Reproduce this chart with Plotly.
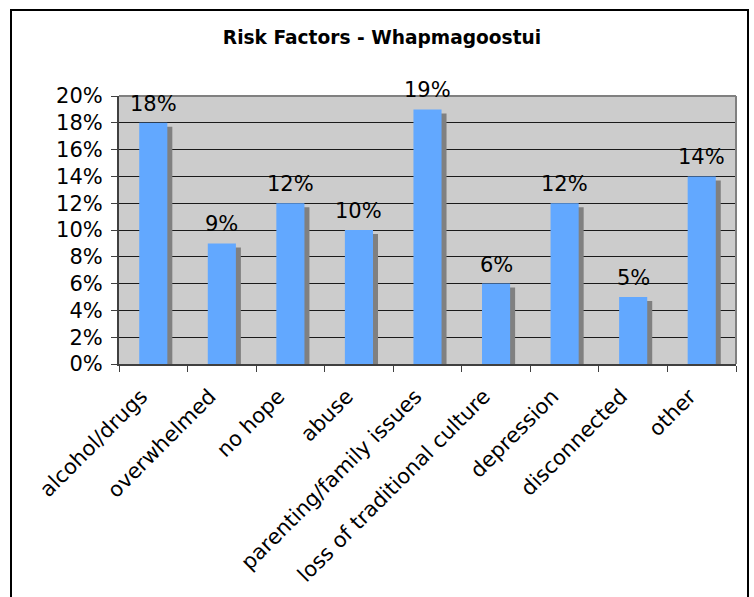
import plotly.graph_objects as go

# Risk factor categories and their share of responses (%)
categories = [
    "alcohol/drugs", "overwhelmed", "no hope", "abuse",
    "parenting/family issues", "loss of traditional culture",
    "depression", "disconnected", "other",
]
shares = [18, 9, 12, 10, 19, 6, 12, 5, 14]
y_ticks = list(range(0, 21, 2))

W, H = 754, 597
L, R, T, B = 119, 18, 96, 233
plot_w = W - L - R
plot_h = H - T - B

BAR_W = 0.41
px_x = len(categories) / plot_w          # category units per pixel
px_y = 20 / plot_h                       # percent units per pixel
SHADOW_DX = 5 * px_x
SHADOW_DY = 4 * px_y
LABEL_DX = 12 * px_x                     # nudge rotated category labels left

FONT = "DejaVu Sans"
LABEL_SIZE = 21

n = len(categories)
fig = go.Figure()

# drop shadow behind each bar
fig.add_trace(go.Bar(
    x=categories,
    y=[v - SHADOW_DY for v in shares],
    width=BAR_W,
    offset=-BAR_W / 2 + SHADOW_DX,
    marker=dict(color="#808080", line=dict(width=0)),
    hoverinfo="skip",
))
# main bars
fig.add_trace(go.Bar(
    x=categories,
    y=shares,
    width=BAR_W,
    offset=-BAR_W / 2,
    marker=dict(color="#62A8FF", line=dict(width=0)),
))
# invisible helper so the label axis gets drawn
fig.add_trace(go.Scatter(
    x=list(range(n)), y=shares, xaxis="x2", yaxis="y",
    mode="markers", marker=dict(opacity=0), hoverinfo="skip",
))

# value labels above bars
for c, v in zip(categories, shares):
    fig.add_annotation(
        x=c, y=v, text=f"{v}%", showarrow=False,
        xanchor="center", yanchor="bottom", yshift=5,
        font=dict(family=FONT, size=LABEL_SIZE, color="#000000"),
    )

def px_to_paper_x(px):
    return (px - L) / plot_w

def px_to_paper_y(py):
    return (H - B - py) / plot_h

# outer chart frame
fig.add_shape(type="rect", xref="paper", yref="paper",
              x0=px_to_paper_x(11), x1=px_to_paper_x(748),
              y0=px_to_paper_y(610), y1=px_to_paper_y(10),
              line=dict(color="#000000", width=2), layer="above")
# plot area top and right edges
fig.add_shape(type="line", xref="paper", yref="paper",
              x0=0, x1=1, y0=1, y1=1,
              line=dict(color="#808080", width=2), layer="above")
fig.add_shape(type="line", xref="paper", yref="paper",
              x0=1, x1=1, y0=0, y1=1,
              line=dict(color="#808080", width=2), layer="above")

fig.update_layout(
    width=W, height=H,
    margin=dict(l=L, r=R, t=T, b=B, autoexpand=False),
    paper_bgcolor="#FFFFFF",
    plot_bgcolor="#CCCCCC",
    barmode="overlay",
    showlegend=False,
    title=dict(
        text="<b>Risk Factors - Whapmagoostui</b>",
        x=382 / W, xanchor="center", xref="container",
        y=1 - 37 / H, yanchor="middle", yref="container",
        font=dict(family=FONT, size=18.6, color="#000000"),
    ),
    font=dict(family=FONT, size=LABEL_SIZE, color="#000000"),
    xaxis=dict(
        type="category",
        showticklabels=False,
        showline=True, linecolor="#404040", linewidth=2,
        ticks="outside", tickson="boundaries", ticklen=6,
        tickcolor="#404040", tickwidth=1,
        showgrid=False,
        range=[-0.5, n - 0.5],
    ),
    # category labels, drawn on an overlaid axis so they sit slightly left
    xaxis2=dict(
        overlaying="x", anchor="y", side="bottom",
        range=[-0.5 + LABEL_DX, n - 0.5 + LABEL_DX],
        tickmode="array",
        tickvals=list(range(n)),
        ticktext=categories,
        tickangle=-45,
        tickfont=dict(family=FONT, size=LABEL_SIZE, color="#000000"),
        ticks="", showline=False, showgrid=False, zeroline=False,
        ticklabelstandoff=15,
    ),
    yaxis=dict(
        range=[0, 20],
        tickvals=y_ticks,
        ticktext=[f"{t}%" for t in y_ticks],
        tickfont=dict(family=FONT, size=LABEL_SIZE, color="#000000"),
        showline=True, linecolor="#404040", linewidth=2,
        ticks="outside", ticklen=6, tickcolor="#404040", tickwidth=1,
        ticklabelstandoff=4,
        showgrid=True, gridcolor="#1A1A1A", gridwidth=1,
        zeroline=False,
    ),
)

fig.write_html("out.html")
